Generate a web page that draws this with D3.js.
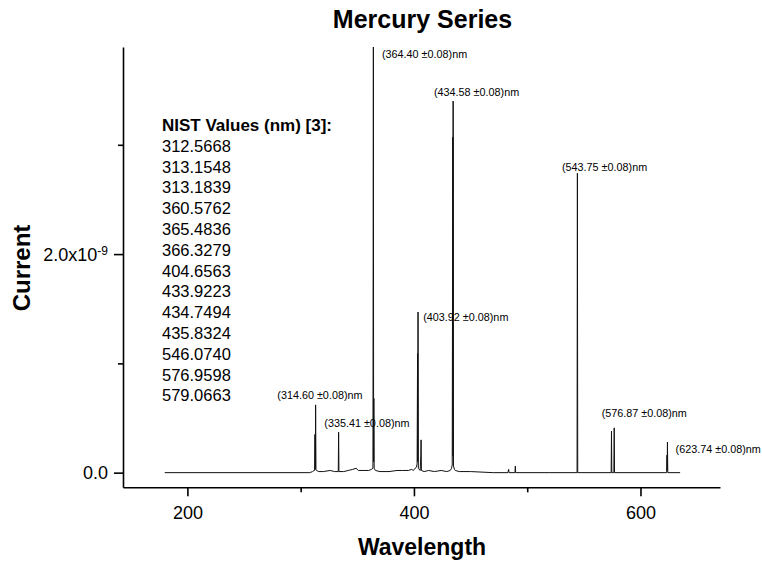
<!DOCTYPE html>
<html lang="en">
<head>
<meta charset="UTF-8">
<title>Mercury Series</title>
<script src="https://d3js.org/d3.v7.min.js"></script>
<style>
    body { margin: 0; background: #fff; }
    svg { font-family: 'Liberation Sans', Arial, sans-serif; }
    .axis path, .axis line { stroke: #000; stroke-width: 1.6; }
    .axis text { fill: #000; font-size: 18px; }
    .peak-label { font-size: 10.8px; fill: #000; }
</style>
</head>
<body>
<div id="chart"></div>
<script>
    // spectrum: wavelength (nm) and current (in units of 1e-9 A)
    const wavelength = [180, 308, 310.5, 311.8, 312.3, 312.6, 312.8, 313.0, 313.2, 313.5, 314, 316, 320, 326, 330,
        333.2, 333.5, 333.8, 338, 342, 346, 349, 351, 356, 360, 362.5, 363.8, 364.2, 364.4, 364.6, 364.9, 366,
        370, 378, 385, 390, 395, 398, 399.5, 401, 402.2, 402.8, 403.2, 403.4, 403.6, 403.9, 405.5, 406.1, 406.3,
        406.6, 409, 413, 418, 424, 429, 432, 433.2, 433.8, 434.3, 434.5, 434.6, 434.9, 435.8, 436.5, 440, 450,
        470, 483, 483.6, 484, 489.2, 489.5, 489.8, 520, 544, 544.3, 544.6, 574.1, 574.4, 574.7, 576.5, 576.8,
        577.1, 623.1, 623.4, 623.6, 623.8, 624.1, 635];
    const currentE9 = [0, 0, 0.01, 0.02, 0.02, 0.35, 0.03, 0.05, 0.62, 0.03, 0.02, 0.01, 0.01, 0.02, 0.01,
        0.01, 0.37, 0.01, 0.01, 0.02, 0.03, 0.04, 0.02, 0.02, 0.02, 0.03, 0.04, 4.2, 0.1, 0.68, 0.04, 0.02,
        0.01, 0.01, 0.02, 0.02, 0.02, 0.03, 0.02, 0.04, 0.05, 0.08, 1.09, 0.1, 1.47, 0.04, 0.02, 0.16, 0.3,
        0.02, 0.01, 0.02, 0.01, 0.02, 0.01, 0.02, 0.04, 0.07, 3.07, 0.15, 3.4, 0.06, 0.03, 0.02, 0.01, 0.01,
        0, 0, 0.03, 0, 0, 0.06, 0, 0, 0, 2.74, 0, 0, 0.38, 0, 0, 0.41,
        0, 0, 0.16, 0.02, 0.28, 0, 0];

    // peak annotations, anchored in data coordinates
    const peakText = ['(364.40 \u00b10.08)nm', '(434.58 \u00b10.08)nm', '(543.75 \u00b10.08)nm', '(403.92 \u00b10.08)nm',
        '(314.60 \u00b10.08)nm', '(335.41 \u00b10.08)nm', '(576.87 \u00b10.08)nm', '(623.74 \u00b10.08)nm'];
    const peakTextX = [371.8, 417.7, 530.7, 408.2, 279.4, 320.9, 565.7, 631.0];
    const peakTextY = [3.794, 3.447, 2.76, 1.388, 0.674, 0.418, 0.505, 0.176];

    const nistValues = ['312.5668', '313.1548', '313.1839', '360.5762', '365.4836', '366.3279', '404.6563',
        '433.9223', '434.7494', '435.8324', '546.0740', '576.9598', '579.0663'];

    const xMajor = [200, 400, 600];
    const xMinor = [300, 500];
    const yMajor = [0, 2];
    const yMinor = [1, 3];

    const width = 762, height = 563;
    const plot = { left: 123, right: 720, top: 47, bottom: 487.3 };

    const x = d3.scaleLinear().domain([143.15, 670.2]).range([plot.left, plot.right]);
    const y = d3.scaleLinear().domain([-0.134, 3.895]).range([plot.bottom, plot.top]);

    const svg = d3.select('#chart').append('svg')
        .attr('width', width)
        .attr('height', height);

    svg.append('clipPath').attr('id', 'clip')
        .append('rect')
        .attr('x', plot.left).attr('y', plot.top)
        .attr('width', plot.right - plot.left).attr('height', plot.bottom - plot.top);

    // spectrum line
    const pts = wavelength.map((w, i) => [w, currentE9[i]]);
    svg.append('path')
        .datum(pts)
        .attr('clip-path', 'url(#clip)')
        .attr('fill', 'none')
        .attr('stroke', '#111')
        .attr('stroke-width', 1)
        .attr('d', d3.line().x(d => x(d[0])).y(d => y(d[1])));

    // x axis
    const xAxis = svg.append('g').attr('class', 'axis')
        .attr('transform', `translate(0,${plot.bottom})`)
        .call(d3.axisBottom(x).tickValues(xMajor).tickSize(9).tickSizeOuter(0).tickFormat(d3.format('d')));
    xAxis.selectAll('text').attr('y', 32).attr('dy', 0);
    svg.append('g').attr('class', 'axis')
        .attr('transform', `translate(0,${plot.bottom})`)
        .call(d3.axisBottom(x).tickValues(xMinor).tickSize(5).tickSizeOuter(0).tickFormat(''))
        .select('.domain').remove();

    // y axis
    const yAxis = svg.append('g').attr('class', 'axis')
        .attr('transform', `translate(${plot.left},0)`)
        .call(d3.axisLeft(y).tickValues(yMajor).tickSize(9).tickPadding(6).tickSizeOuter(0).tickFormat(''));
    yAxis.selectAll('.tick text').each(function (d) {
        const t = d3.select(this).attr('dy', '0.34em');
        if (d === 0) {
            t.text('0.0');
        } else {
            t.append('tspan').text(d.toFixed(1) + 'x10');
            t.append('tspan').attr('dy', '-0.5em').attr('font-size', '12px').text('-9');
        }
    });
    svg.append('g').attr('class', 'axis')
        .attr('transform', `translate(${plot.left},0)`)
        .call(d3.axisLeft(y).tickValues(yMinor).tickSize(5).tickSizeOuter(0).tickFormat(''))
        .select('.domain').remove();

    // peak labels
    svg.selectAll('.peak-label')
        .data(peakText)
        .enter()
        .append('text')
        .attr('class', 'peak-label')
        .attr('x', (d, i) => x(peakTextX[i]))
        .attr('y', (d, i) => y(peakTextY[i]))
        .text(d => d);

    // NIST reference list
    const nist = svg.append('text')
        .attr('x', 162)
        .attr('y', 131)
        .attr('fill', '#000');
    nist.append('tspan')
        .attr('font-weight', 'bold')
        .attr('font-size', '17px')
        .text('NIST Values (nm) [3]:');
    nist.selectAll('.nist')
        .data(nistValues)
        .enter()
        .append('tspan')
        .attr('class', 'nist')
        .attr('x', 162)
        .attr('dy', 20.8)
        .attr('font-size', '16.5px')
        .text(d => d);

    // titles
    svg.append('text')
        .attr('x', 422.5).attr('y', 28)
        .attr('text-anchor', 'middle')
        .attr('font-weight', 'bold').attr('font-size', '25px')
        .text('Mercury Series');
    svg.append('text')
        .attr('x', 422).attr('y', 555)
        .attr('text-anchor', 'middle')
        .attr('font-weight', 'bold').attr('font-size', '23px')
        .text('Wavelength');
    svg.append('text')
        .attr('transform', 'translate(30,268) rotate(-90)')
        .attr('text-anchor', 'middle')
        .attr('font-weight', 'bold').attr('font-size', '24px')
        .text('Current');
</script>
</body>
</html>
